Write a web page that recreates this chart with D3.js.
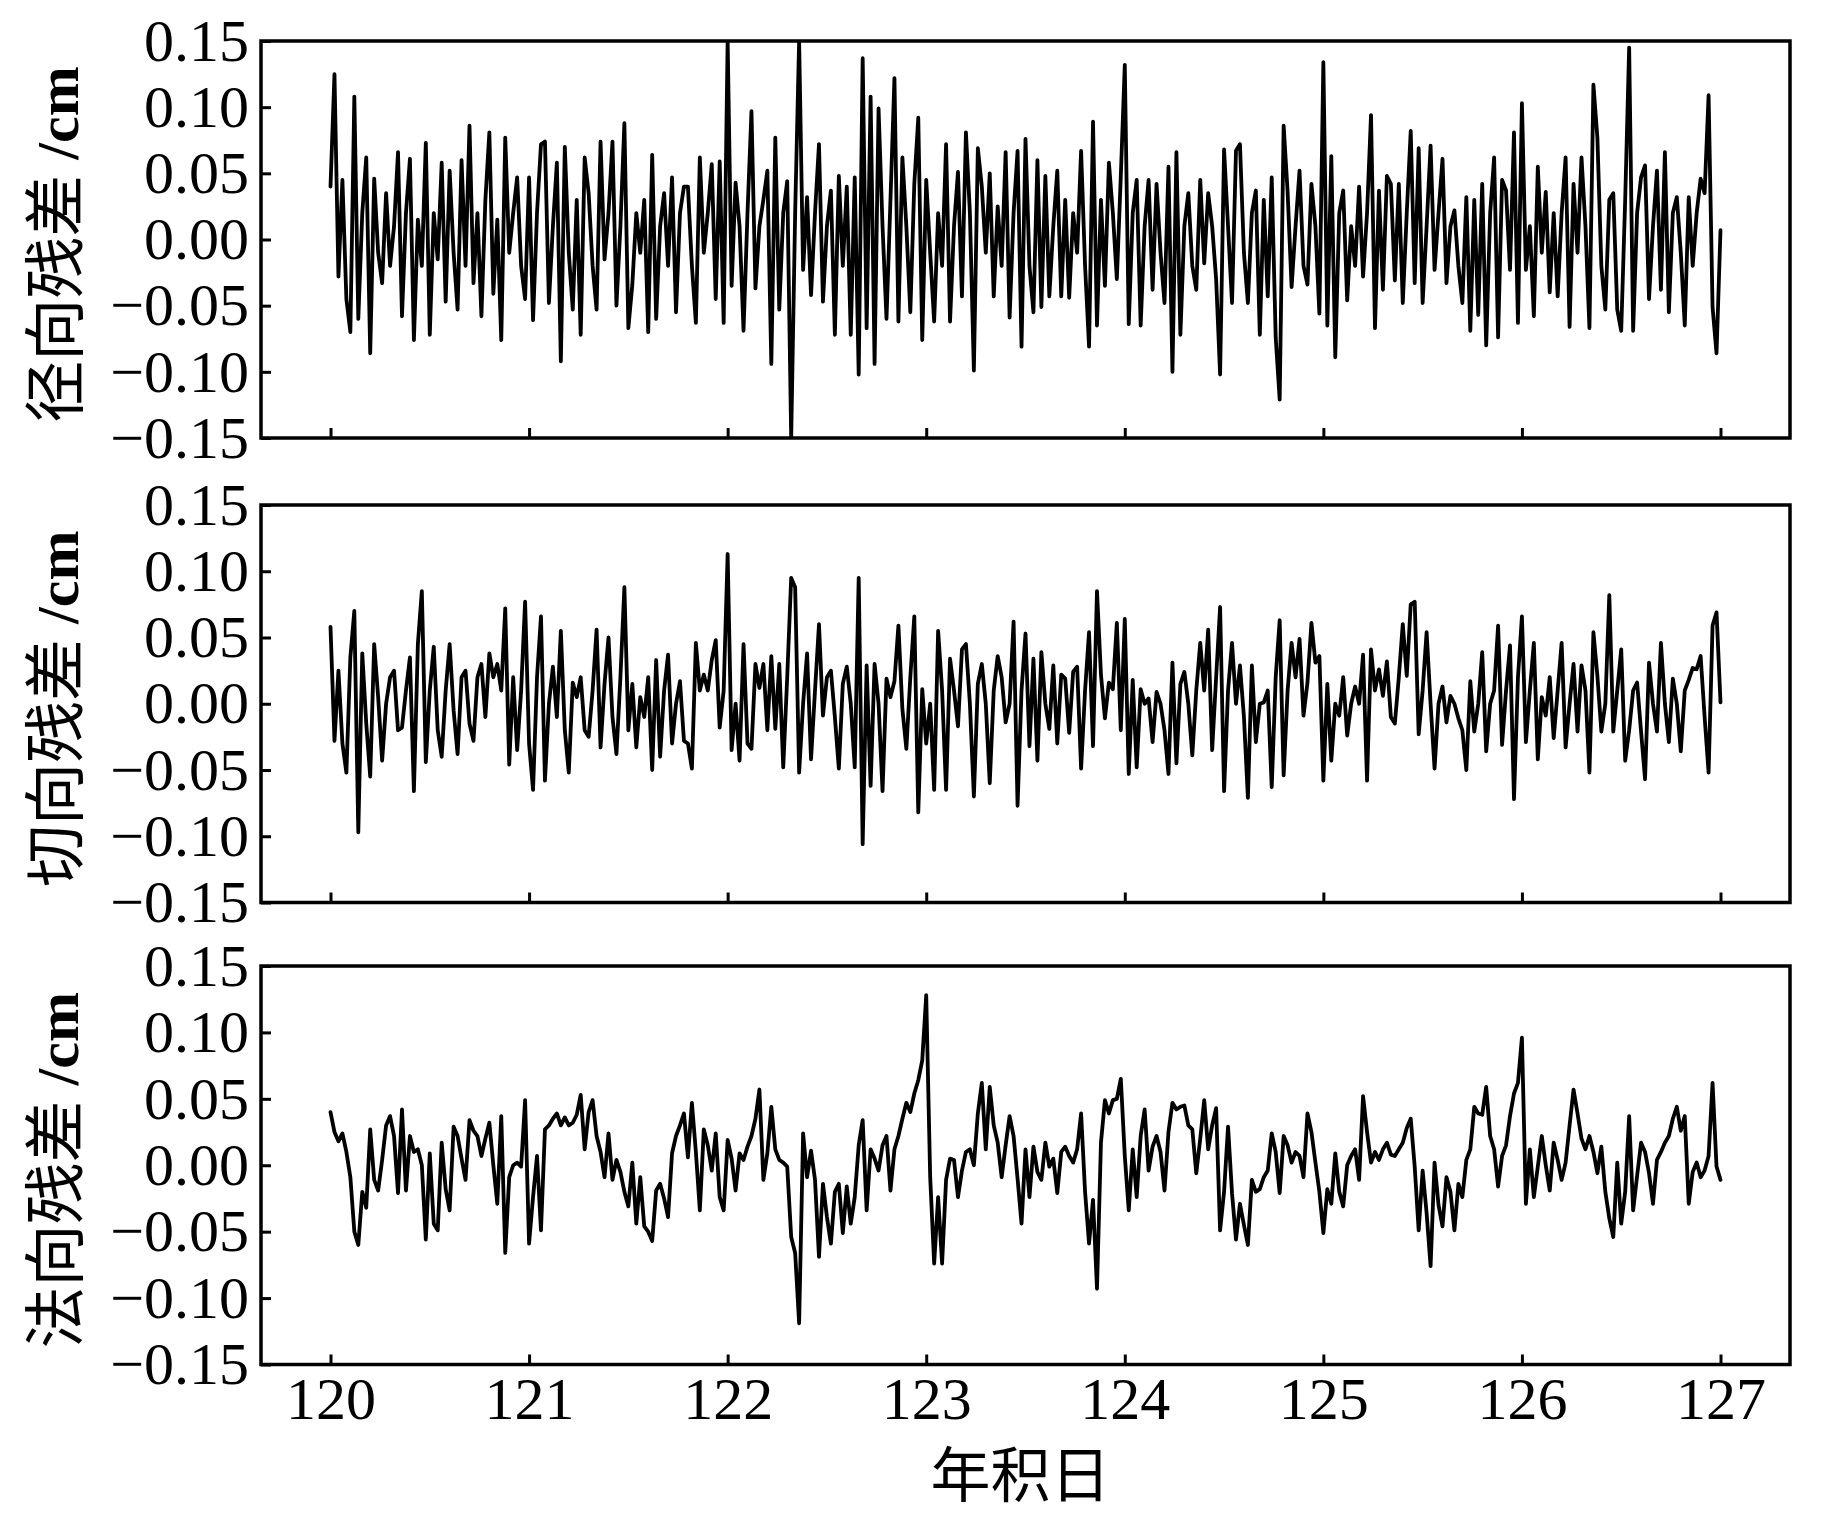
<!DOCTYPE html>
<html><head><meta charset="utf-8">
<script src="https://cdn.jsdelivr.net/npm/d3@7"></script>
<style>body{margin:0;background:#fff}</style>
</head><body>
<svg id="chart" width="1843" height="1517"></svg>
<script>
// ---- data ----
const dayStart = 120, dayEnd = 127;
const xTicks = [120, 121, 122, 123, 124, 125, 126, 127];
const yTicks = [0.15, 0.10, 0.05, 0.00, -0.05, -0.10, -0.15];
const yTickLabels = ["0.15", "0.10", "0.05", "0.00", "\u22120.05", "\u22120.10", "\u22120.15"];
const panelTitles = ["径向残差", "切向残差", "法向残差"];
const unitLabel = " /cm";
const xTitle = "年积日";

// 径向残差 (cm), sampled every 0.02 day from 120 to 127
const radial = [
 .04,.125,-.028,.045,-.045,-.07,.108,-.06,.02,.062,
 -.086,.046,-.01,-.033,.035,-.02,.01,.066,-.058,.02,
 .061,-.076,.015,-.02,.073,-.072,.02,-.015,.058,-.047,
 .052,-.01,-.053,.06,-.02,.086,-.033,.02,-.058,.03,
 .081,-.041,.015,-.076,.077,-.01,.02,.047,-.02,-.045,
 .047,-.061,.02,.072,.074,-.048,.01,.058,-.092,.07,
 -.01,-.053,.03,-.072,.062,.035,-.02,-.053,.074,-.015,
 .02,.074,-.05,.01,.088,-.067,-.034,.02,-.01,.03,
 -.07,.064,-.06,.01,.035,-.02,.047,-.055,.02,.04,
 .04,-.02,-.063,.062,-.01,.02,.057,-.045,.059,-.063,
 .15,-.035,.043,.01,-.069,.02,.097,-.037,.01,.03,
 .052,-.094,.077,-.053,.02,.044,-.15,.02,.15,-.023,
 .032,-.042,.02,.072,-.047,.01,.037,-.072,.048,-.02,
 .04,-.072,.047,-.102,.137,-.067,.108,-.094,.099,.01,
 -.06,.03,.122,-.062,.062,.01,-.055,.042,.092,-.076,
 .045,-.01,-.062,.02,-.02,.072,-.062,.01,.051,-.043,
 .081,.02,-.099,.069,.04,-.01,.05,-.043,.025,-.02,
 .066,-.059,.02,.067,-.081,.076,-.02,-.055,.06,-.051,
 .048,-.043,.01,.052,-.043,.03,-.044,.02,-.01,.067,
 -.02,-.081,.089,-.065,.03,-.035,.058,.02,-.03,.048,
 .132,-.064,.02,.045,-.065,.01,.045,-.038,.042,-.01,
 -.048,.055,-.1,.066,-.072,.01,.035,-.02,-.038,.045,
 -.018,.035,.01,-.03,-.102,.068,.01,-.048,.067,.072,
 -.01,-.048,.02,.037,-.072,.03,-.043,.047,-.074,-.121,
 .086,.036,-.036,.01,.052,-.02,-.034,.042,.01,-.056,
 .134,-.065,.063,-.089,.02,.037,-.046,.01,-.02,.04,
 -.028,.02,.094,-.067,.037,-.038,.048,.042,-.031,.042,
 -.048,.02,.082,-.033,.069,-.048,.01,.071,-.023,.02,
 .061,-.033,.01,.022,-.02,-.048,.032,-.069,.03,-.057,
 .042,-.08,.02,.062,-.074,.045,.037,-.023,.081,-.063,
 .103,-.023,.01,-.058,.055,-.01,.036,-.04,.02,-.043,
 .02,.062,-.066,.042,-.01,.062,.01,-.067,.117,.077,
 -.02,-.053,.03,.035,-.053,-.069,.03,.145,-.069,.02,
 .047,.056,-.045,.01,.052,-.038,.066,-.055,.02,.032,
 -.01,-.065,.032,-.02,.02,.046,.035,.109,-.051,-.086,
 .007
];

// 切向残差 (cm)
const tangential = [
 .058,-.028,.025,-.03,-.052,.035,.07,-.097,.038,-.015,
 -.055,.045,.005,-.043,0,.02,.025,-.02,-.018,.01,
 .035,-.066,.045,.085,-.044,.01,.043,-.02,-.04,.01,
 .045,-.005,-.038,.02,.025,-.015,-.028,.02,.03,-.01,
 .038,.02,.03,.01,.072,-.046,.02,-.035,.01,.077,
 -.03,-.065,.02,.066,-.058,0,.028,-.01,.055,-.02,
 -.052,.016,.005,.02,-.02,-.025,.01,.056,-.033,.015,
 .05,-.01,-.038,.02,.088,-.02,.015,-.033,.005,-.01,
 .02,-.05,.033,-.04,.01,.037,-.03,0,.017,-.028,
 -.03,-.049,.046,.01,.022,.01,.033,.048,-.018,.01,
 .113,-.035,0,-.043,.045,-.03,-.034,.03,.012,.03,
 -.02,.036,-.019,.03,-.048,.02,.095,.088,-.052,0,
 .038,-.042,.01,.06,-.009,.02,.025,-.01,-.049,.015,
 .028,0,-.048,.095,-.106,.029,-.062,.03,0,-.066,
 .019,.005,.017,.059,-.004,-.034,.02,.066,-.082,.011,
 -.03,0,-.065,.055,.01,-.065,.034,.01,-.017,.041,
 .045,0,-.07,.015,.03,0,-.06,.01,.036,.02,
 -.014,0,.062,-.077,.01,.053,-.032,.034,-.043,.039,
 0,-.019,.029,-.03,.022,.019,-.022,.024,.028,-.049,
 .01,.054,-.032,.085,.022,-.011,.016,.011,.061,-.02,
 .064,-.053,.018,-.048,.011,0,.004,-.029,.009,0,
 -.02,-.053,.031,-.045,.015,.024,0,-.039,.01,.046,
 .01,.056,-.035,.02,.073,-.066,.01,.046,0,.029,
 -.01,-.071,.029,-.029,0,.001,.01,-.063,.02,.063,
 -.054,.01,.046,.02,.049,-.009,.016,.061,.031,.036,
 -.058,.015,-.043,0,-.009,.02,-.024,0,.013,0,
 .037,-.058,.041,.01,.026,.006,.032,-.01,-.015,.02,
 .06,.021,.075,.077,-.023,.01,.054,0,-.049,0,
 .013,-.014,.006,0,-.011,-.02,-.05,.017,-.021,0,
 .039,-.036,0,.01,.059,-.031,.01,.044,-.072,.02,
 .066,-.029,.01,.046,-.042,.005,-.009,.02,-.026,.01,
 .046,-.033,0,.03,-.021,.029,.01,-.052,.054,.021,
 -.021,0,.082,-.021,.01,.041,-.043,-.02,.01,.016,
 -.021,-.057,.031,0,-.021,.046,0,-.029,.019,0,
 -.036,.01,.018,.027,.026,.036,-.01,-.052,.059,.069,
 .001
];

// 法向残差 (cm)
const normal = [
 .04,.025,.018,.024,.01,-.009,-.05,-.06,-.02,-.032,
 .027,-.011,-.019,.004,.03,.037,.022,-.021,.042,-.019,
 .022,.01,.012,0,-.056,.009,-.044,-.049,.017,-.018,
 -.034,.029,.022,.005,-.011,.034,.026,.022,.007,.02,
 .032,0,-.029,.037,-.066,-.009,0,.002,-.001,.049,
 -.059,-.024,.007,-.049,.027,.03,.035,.039,.03,.036,
 .03,.032,.038,.053,.012,.04,.049,.022,.01,-.009,
 .024,-.011,.004,-.005,-.02,-.031,.002,-.044,-.009,-.046,
 -.05,-.057,-.019,-.014,-.025,-.039,.009,.022,.03,.039,
 .006,.047,.01,-.034,.027,.015,-.004,.024,-.024,-.034,
 .019,.005,-.019,.009,.004,.014,.022,.035,.057,-.011,
 .009,.044,.012,.004,.002,-.001,-.054,-.066,-.119,.024,
 -.009,.011,-.011,-.069,-.014,-.039,-.059,-.02,-.014,-.051,
 -.016,-.044,-.024,.015,.034,-.034,.012,.005,-.004,.015,
 .022,-.019,.012,.022,.035,.047,.04,.054,.064,.079,
 .128,-.009,-.074,-.024,-.074,-.011,.005,.004,-.024,-.004,
 .01,.012,0,.039,.062,.012,.059,.03,.017,-.009,
 .015,.037,.022,-.01,-.044,.012,-.024,.014,-.005,-.011,
 .017,-.001,.005,-.021,.01,.014,.007,.002,.012,.039,
 -.02,-.059,-.026,-.093,.017,.049,.039,.049,.05,.065,
 .007,-.034,.012,-.024,.022,.042,-.004,.014,.022,.01,
 -.019,.025,.047,.042,.044,.045,.03,.027,-.006,.02,
 .049,.012,.03,.043,-.049,-.02,.029,-.021,-.056,-.029,
 -.045,-.06,-.011,-.02,-.018,-.009,-.004,.024,.01,-.021,
 .022,.015,.002,.01,.007,-.009,.039,.025,.002,-.02,
 -.051,-.018,-.029,.009,-.02,-.031,0,.007,.012,-.011,
 .052,.025,.002,.01,.004,.012,.017,.008,.007,.012,
 .017,.028,.035,-.001,-.049,-.004,-.036,-.076,.002,-.03,
 -.046,-.009,-.02,-.049,-.014,-.024,.004,.012,.044,.039,
 .038,.059,.022,.012,-.016,.007,.015,.037,.054,.062,
 .096,-.029,.012,-.024,-.001,.022,0,-.019,.017,.004,
 -.011,.002,.03,.057,.039,.02,.012,.022,.01,-.006,
 .014,-.02,-.04,-.054,.002,-.044,-.02,.037,-.034,-.008,
 .017,.01,-.006,-.029,.004,.01,.017,.022,.035,.044,
 .026,.037,-.029,-.005,.002,-.009,-.004,.007,.062,-.001,
 -.011
];

// ---- drawing ----
const svg = d3.select("#chart");
const left = 261, right = 1790;
const panels = [
  {top: 41, bottom: 438, data: radial, title: panelTitles[0]},
  {top: 505, bottom: 902.5, data: tangential, title: panelTitles[1]},
  {top: 966, bottom: 1364.5, data: normal, title: panelTitles[2]}
];
const x = d3.scaleLinear().domain([119.65, 127.35]).range([left, right]);
const serif = "'Liberation Serif','Times New Roman',serif";
const cjk = "'Noto Sans CJK SC','Noto Sans CJK JP',sans-serif";

panels.forEach((p, k) => {
  const y = d3.scaleLinear().domain([-0.15, 0.15]).range([p.bottom, p.top]);
  const n = p.data.length;
  const pts = p.data.map((v, i) => [dayStart + i * (dayEnd - dayStart) / (n - 1), v]);
  const g = svg.append("g");
  const cid = "clip" + k;
  svg.append("clipPath").attr("id", cid).append("rect")
    .attr("x", left).attr("y", p.top).attr("width", right - left).attr("height", p.bottom - p.top);

  g.append("path")
    .datum(pts)
    .attr("clip-path", `url(#${cid})`)
    .attr("fill", "none")
    .attr("stroke", "#000")
    .attr("stroke-width", 3.8)
    .attr("stroke-linejoin", "round")
    .attr("stroke-linecap", "round")
    .attr("d", d3.line().x(d => x(d[0])).y(d => y(d[1])));

  // y axis (inward ticks)
  const ya = g.append("g").attr("transform", `translate(${left},0)`)
    .call(d3.axisLeft(y).tickValues(yTicks).tickSize(-10).tickPadding(12)
      .tickFormat((d, i) => yTickLabels[i]));
  ya.select(".domain").remove();
  ya.selectAll(".tick line").attr("stroke", "#000").attr("stroke-width", 3);
  ya.selectAll(".tick text").attr("font-family", serif).attr("font-size", 60).attr("fill", "#000");

  // x axis (inward ticks)
  const xa = g.append("g").attr("transform", `translate(0,${p.bottom})`)
    .call(d3.axisBottom(x).tickValues(xTicks).tickSize(-10).tickPadding(12)
      .tickFormat(k === 2 ? d3.format("d") : () => ""));
  xa.select(".domain").remove();
  xa.selectAll(".tick line").attr("stroke", "#000").attr("stroke-width", 3);
  xa.selectAll(".tick text").attr("font-family", serif).attr("font-size", 60).attr("fill", "#000");

  // frame
  g.append("rect").attr("x", left).attr("y", p.top)
    .attr("width", right - left).attr("height", p.bottom - p.top)
    .attr("fill", "none").attr("stroke", "#000").attr("stroke-width", 3.5);

  // y title
  const cy = (p.top + p.bottom) / 2 + 5;
  const t = svg.append("text")
    .attr("transform", `translate(78,${cy}) rotate(-90)`)
    .attr("text-anchor", "middle").attr("fill", "#000");
  t.append("tspan").attr("font-family", cjk).attr("font-size", 62).text(p.title);
  t.append("tspan").attr("font-family", serif).attr("font-size", 60).attr("font-weight", "bold").text(unitLabel);
});

svg.append("text")
  .attr("x", (left + right) / 2 - 5).attr("y", 1497)
  .attr("text-anchor", "middle")
  .attr("font-family", cjk).attr("font-size", 60).attr("fill", "#000")
  .text(xTitle);
</script>
</body></html>
